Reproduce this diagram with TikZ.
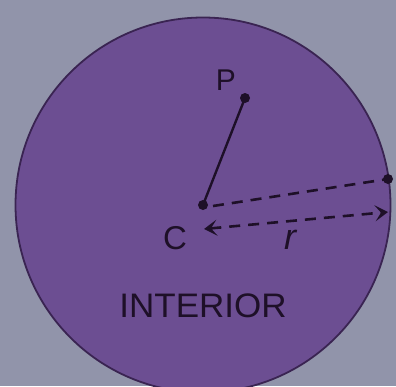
\documentclass[tikz,border=0pt]{standalone}
\usepackage{fontspec}
\setmainfont{Liberation Sans}
\usetikzlibrary{arrows.meta, positioning}
\definecolor{bgpaper}{HTML}{9194AA}
\definecolor{discfill}{HTML}{6C4E92}
\definecolor{discedge}{HTML}{3A2452}
\definecolor{inkdark}{HTML}{1E1028}

\begin{document}
\begin{tikzpicture}[
    x=1pt, y=-1pt,
    disc/.style={circle, draw=discedge, fill=discfill, line width=1.8pt, minimum size=375pt, inner sep=0pt},
    dot/.style={circle, fill=inkdark, minimum size=10pt, inner sep=0pt},
    label/.style={text=inkdark, inner sep=0pt},
    radius line/.style={inkdark, line width=2.6pt, dash pattern=on 11pt off 8pt},
    measure/.style={radius line, {Stealth[length=13pt,width=16pt,inset=6pt]}-{Stealth[length=13pt,width=16pt,inset=6pt]}}
]

\fill[bgpaper] (0,0) rectangle (396,386);
\useasboundingbox (0,0) rectangle (396,386);

\node[disc] (disc) at (203,205) {};
\node[dot] (centre) at (203,205) {};
\node[dot] (pt) at (245,98) {};
\node[dot] (edge) at (388,179) {};
\coordinate (rleft) at (204,229);
\coordinate (rright) at (388,212);

\draw[inkdark, line width=2.4pt] (centre.center) -- (pt.center);
\draw[radius line] (centre.center) ++(10pt,-1pt) -- (edge.center);
\draw[measure] (rleft) -- (rright);

\node[label, font=\fontsize{30}{30}\selectfont] (plabel) at (226,80) {P};
\node[label, font=\fontsize{33}{33}\selectfont] (clabel) at (175,238) {C};
\node[label, font=\fontsize{36}{36}\selectfont\itshape] (rlabel) at (290,240) {r};
\node[label, font=\fontsize{34}{34}\selectfont, xscale=1.03] (interior) at (203,306) {INTERIOR};

\end{tikzpicture}
\end{document}
